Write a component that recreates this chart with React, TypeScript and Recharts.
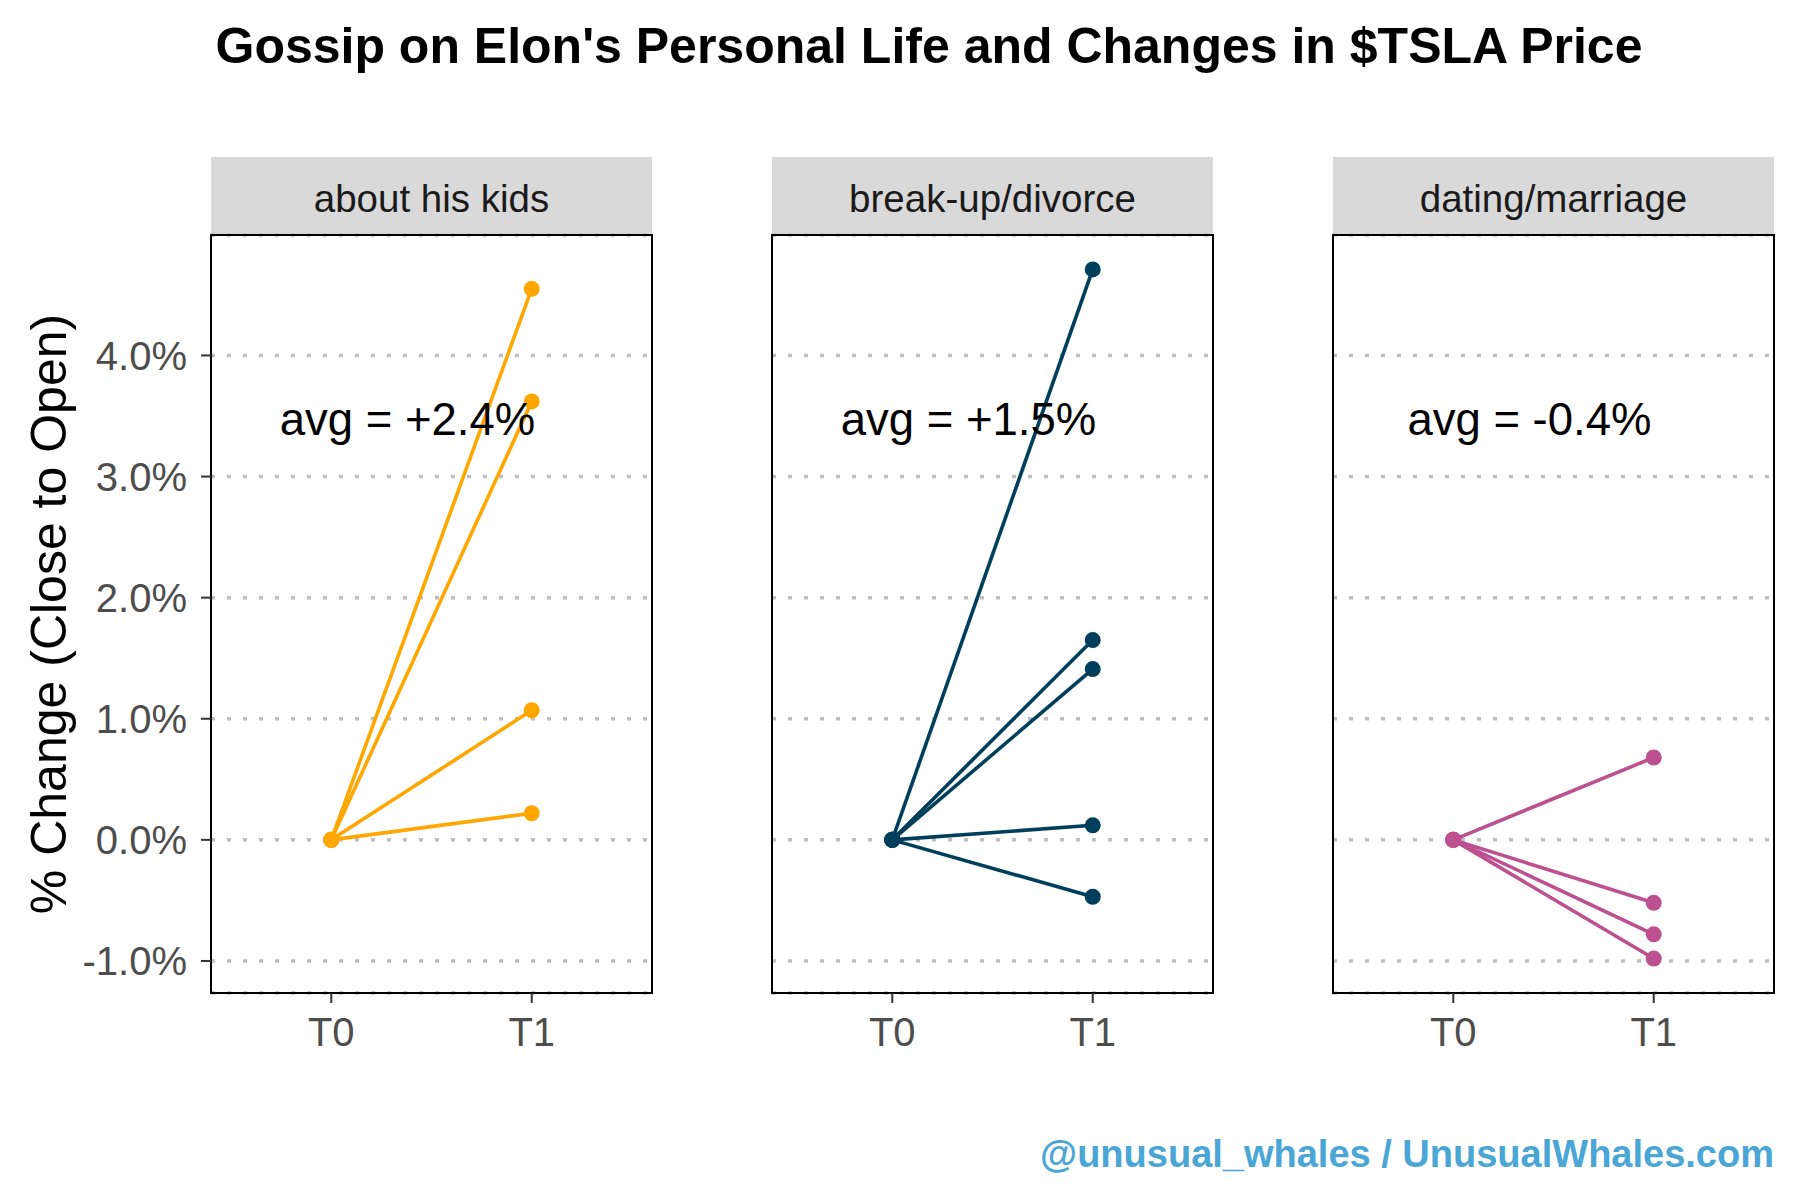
import React from 'react'
import { LineChart, Line, XAxis, YAxis, CartesianGrid, ReferenceArea, ReferenceDot } from 'recharts'

// categories and values
const periods = ['T0', 'T1']
const panelTitles = ['about his kids', 'break-up/divorce', 'dating/marriage']
const kidsChanges = [4.55, 3.62, 1.07, 0.22]
const breakupChanges = [4.71, 1.65, 1.41, 0.12, -0.47]
const datingChanges = [0.68, -0.52, -0.78, -0.98]
const avgLabels = ['avg = +2.4%', 'avg = +1.5%', 'avg = -0.4%']
const yTicks = [-1, 0, 1, 2, 3, 4]
const baseline = 0

const panelValues = [kidsChanges, breakupChanges, datingChanges]
const colors = ['#FFA600', '#003F5C', '#BC5090']

const FONT = '"Liberation Sans", Arial, sans-serif'

// ggplot-like 5% expansion of the shared y range
const allValues = [baseline, ...kidsChanges, ...breakupChanges, ...datingChanges]
const vMin = Math.min(...allValues)
const vMax = Math.max(...allValues)
const pad = (vMax - vMin) * 0.05
const yDomain = [vMin - pad, vMax + pad]
const xDomain = [-0.6, 1.6]

const PANEL_LEFT = [211, 772, 1333]
const PANEL_TOP = 235
const PANEL_W = 441
const PANEL_H = 758
const Y_AXIS_W = 211
const X_AXIS_H = 80
const M = 4

const buildRows = (vals: number[]) =>
  periods.map((p, i) => {
    const row: Record<string, number | string> = { x: i, period: p }
    vals.forEach((v, k) => {
      row[`s${k}`] = i === 0 ? baseline : v
    })
    return row
  })

const Panel = ({ idx }: { idx: number }) => {
  const showY = idx === 0
  const vals = panelValues[idx]
  const color = colors[idx]
  const rows = buildRows(vals)
  const width = (showY ? Y_AXIS_W : M) + PANEL_W + M
  const left = showY ? 0 : PANEL_LEFT[idx] - M

  return (
    <div style={{ position: 'absolute', left, top: PANEL_TOP - M }}>
      <LineChart
        width={width}
        height={M + PANEL_H + X_AXIS_H}
        data={rows}
        margin={{ top: M, right: M, bottom: 0, left: showY ? 0 : M }}
      >
        <CartesianGrid
          horizontal
          vertical={false}
          stroke="#BEBEBE"
          strokeWidth={3.5}
          strokeDasharray="4 12"
        />
        <XAxis
          dataKey="x"
          type="number"
          domain={xDomain}
          ticks={[0, 1]}
          tickFormatter={(i: number) => periods[i]}
          axisLine={false}
          tickLine={{ stroke: '#333333', strokeWidth: 2 }}
          tickSize={10}
          tickMargin={15}
          height={X_AXIS_H}
          tick={{ fill: '#4D4D4D', fontSize: 40, fontFamily: FONT }}
          allowDataOverflow
        />
        <YAxis
          type="number"
          domain={yDomain}
          ticks={yTicks}
          hide={!showY}
          width={Y_AXIS_W}
          tickFormatter={(v: number) => `${v.toFixed(1)}%`}
          axisLine={false}
          tickLine={{ stroke: '#333333', strokeWidth: 2 }}
          tickSize={10}
          tickMargin={14}
          tick={{ fill: '#4D4D4D', fontSize: 40, fontFamily: FONT }}
          allowDataOverflow
        />
        {vals.map((_, k) => (
          <Line
            key={k}
            type="linear"
            dataKey={`s${k}`}
            stroke={color}
            strokeWidth={3.6}
            dot={{ r: 8, fill: color, stroke: color, strokeWidth: 0 }}
            activeDot={false}
            isAnimationActive={false}
          />
        ))}
        <ReferenceDot
          x={0.38}
          y={3.48}
          r={0}
          fill="none"
          stroke="none"
          ifOverflow="visible"
          label={{ value: avgLabels[idx], position: 'center', fontSize: 45.5, fill: '#000000', fontFamily: FONT }}
        />
        <ReferenceArea
          x1={xDomain[0]}
          x2={xDomain[1]}
          y1={yDomain[0]}
          y2={yDomain[1]}
          fill="none"
          fillOpacity={0}
          stroke="#000000"
          strokeWidth={2}
          ifOverflow="visible"
        />
      </LineChart>
    </div>
  )
}

const App = () => {
  return (
    <div
      style={{
        position: 'absolute',
        left: 0,
        top: 0,
        width: 1800,
        height: 1200,
        background: '#ffffff',
        fontFamily: FONT,
        overflow: 'hidden',
      }}
    >
      <div
        style={{
          position: 'absolute',
          left: 0,
          top: 21,
          width: 1858,
          textAlign: 'center',
          fontSize: 50,
          lineHeight: '50px',
          fontWeight: 'bold',
          color: '#000000',
          whiteSpace: 'nowrap',
        }}
      >
        Gossip on Elon's Personal Life and Changes in $TSLA Price
      </div>

      {panelTitles.map((t, i) => (
        <div
          key={t}
          style={{
            position: 'absolute',
            left: PANEL_LEFT[i],
            top: 157,
            width: PANEL_W,
            height: 78,
            background: '#D9D9D9',
            display: 'flex',
            alignItems: 'center',
            justifyContent: 'center',
            paddingTop: 5,
            boxSizing: 'border-box',
            fontSize: 38.5,
            color: '#1A1A1A',
          }}
        >
          {t}
        </div>
      ))}

      {panelTitles.map((t, i) => (
        <Panel key={t} idx={i} />
      ))}

      <svg
        width={120}
        height={1200}
        style={{ position: 'absolute', left: 0, top: 0 }}
      >
        <text
          transform="translate(48,614) rotate(-90)"
          textAnchor="middle"
          dy="0.36em"
          fontSize={50}
          fontFamily={FONT}
          fill="#000000"
        >
          % Change (Close to Open)
        </text>
      </svg>

      <div
        style={{
          position: 'absolute',
          left: 0,
          top: 1135,
          width: 1774,
          textAlign: 'right',
          fontSize: 38,
          lineHeight: '38px',
          fontWeight: 'bold',
          color: '#4AA6D5',
          whiteSpace: 'nowrap',
        }}
      >
        @unusual_whales / UnusualWhales.com
      </div>
    </div>
  )
}

export default App
